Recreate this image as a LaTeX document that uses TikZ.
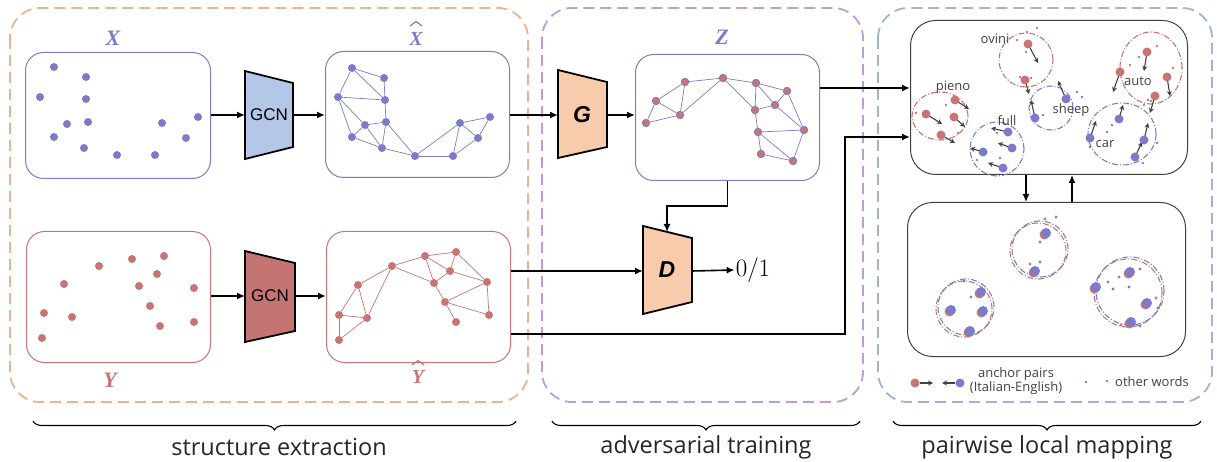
\documentclass[tikz,border=0pt]{standalone}
\usepackage{fontspec}
\usetikzlibrary{arrows.meta,decorations.pathreplacing,calc}
\newfontfamily\osans{Open Sans}
\newfontfamily\lsans{Liberation Sans}
\newfontfamily\lserif{Liberation Serif}
\definecolor{cblue}{HTML}{7B7BCB}
\definecolor{cred}{HTML}{C97474}
\definecolor{gcnblue}{HTML}{B4C7E7}
\definecolor{gcnred}{HTML}{C47572}
\definecolor{peach}{HTML}{F8CBAD}
\definecolor{dorange}{HTML}{EBB38F}
\definecolor{dpurple}{HTML}{BF9BD8}
\definecolor{dblue}{HTML}{A0B3D5}
\definecolor{dgray}{HTML}{404040}
\begin{document}
\begin{tikzpicture}[x=1pt,y=-1pt,
  outerbox/.style={line width=1.8pt, dash pattern=on 11pt off 6pt, rounded corners=30pt},
  panel/.style={draw, rounded corners=18pt, line width=1pt, inner sep=0pt, anchor=north west},
  bdot/.style={circle, fill=cblue, inner sep=0pt, minimum size=8pt},
  rdot/.style={circle, fill=cred, inner sep=0pt, minimum size=8pt},
  zdot/.style={circle, fill=cred, draw=cblue, line width=0.8pt, inner sep=0pt, minimum size=7.5pt},
  bedge/.style={draw=cblue, line width=0.7pt},
  redge/.style={draw=cred, line width=0.7pt},
  flow/.style={line width=1.6pt, -{Latex[length=8pt,width=7pt]}},
  trap/.style={draw=black, line width=1.8pt},
  varlabel/.style={font=\lserif\bfseries\itshape\fontsize{22}{22}\selectfont, inner sep=1pt},
  hatlabel/.style={font=\lserif\bfseries\itshape\fontsize{20}{20}\selectfont, inner sep=1pt},
  hat/.style={line width=1.2pt, line join=round},
  sublabel/.style={font=\osans\fontsize{23.5}{23.5}\selectfont, text=black!85},
  rcirc/.style={draw=cred, line width=1.1pt, dash pattern=on 6pt off 2pt on 1pt off 2pt},
  bcirc/.style={draw=cblue, line width=1.1pt, dash pattern=on 6pt off 2pt on 1pt off 2pt},
  carr/.style={draw=dgray, line width=1.1pt, -{Stealth[length=5pt,width=5pt]}},
  wlabel/.style={font=\osans\fontsize{13}{13}\selectfont, text=dgray, inner sep=1pt},
  brace/.style={decorate, decoration={brace, mirror, amplitude=9pt}, line width=1.1pt}
]
\path[use as bounding box] (0,0) rectangle (1217,462);

% outer dashed containers
\draw[outerbox, draw=dorange] (10,8) rectangle (528,402);
\draw[outerbox, draw=dpurple] (542,8) rectangle (863,402);
\draw[outerbox, draw=dblue] (878,8) rectangle (1212,402);

% braces and captions
\draw[brace] (33,421) -- (516,421);
\node[sublabel] (cap1) at (279,447) {structure extraction};
\draw[brace] (552,421) -- (860,421);
\node[sublabel] (cap2) at (706,447) {adversarial training};
\draw[brace] (893,421) -- (1201,421);
\node[sublabel] (cap3) at (1047,447) {pairwise local mapping};

% panels
\node[panel, draw=cblue, minimum width=185pt, minimum height=126pt] (X) at (25,52) {};
\node[panel, draw=cblue, minimum width=184pt, minimum height=126pt] (Xh) at (325,51) {};
\node[panel, draw=cblue, minimum width=184pt, minimum height=126pt] (Z) at (635,54) {};
\node[panel, draw=cred, minimum width=184pt, minimum height=131pt] (Y) at (26,231) {};
\node[panel, draw=cred, minimum width=184pt, minimum height=131pt] (Yh) at (326,231) {};
\node[panel, draw=black!75, rounded corners=25pt, minimum width=277pt, minimum height=154pt] (T) at (910,20) {};
\node[panel, draw=black!75, rounded corners=25pt, minimum width=278pt, minimum height=154pt] (B) at (907,202) {};

% variable labels
\node[varlabel, text=cblue] (lx) at (113,38) {X};
\node[hatlabel, text=cblue] (lxh) at (416,39) {X};
\draw[hat, draw=cblue] (410,26) -- (416,21.5) -- (422,26);
\node[varlabel, text=cblue] (lz) at (722,37) {Z};
\node[varlabel, text=cred] (ly) at (110,380) {Y};
\node[hatlabel, text=cred] (lyh) at (418,377) {Y};
\draw[hat, draw=cred] (412,365) -- (418,360.5) -- (424,365);

% trapezoids
\draw[trap, fill=gcnblue] (245,71) -- (293,83) -- (293,147) -- (245,159) -- cycle;
\node[font=\lsans\fontsize{17}{17}\selectfont] (gcn1) at (269,115) {GCN};
\coordinate (g1in) at (245,115); \coordinate (g1out) at (293,115);
\draw[trap, fill=gcnred] (245,251) -- (295,263) -- (295,331) -- (245,342) -- cycle;
\node[font=\lsans\fontsize{17}{17}\selectfont] (gcn2) at (270,296) {GCN};
\coordinate (g2in) at (245,296); \coordinate (g2out) at (295,296);
\draw[trap, fill=peach] (558,70) -- (607,82) -- (607,147) -- (558,158) -- cycle;
\node[font=\lsans\bfseries\itshape\fontsize{23}{23}\selectfont] (G) at (582,115) {G};
\coordinate (gin) at (558,115); \coordinate (gout) at (607,115);
\draw[trap, fill=peach] (643,226) -- (692,238) -- (692,302) -- (643,314) -- cycle;
\node[font=\lsans\bfseries\itshape\fontsize{23}{23}\selectfont] (D) at (667,270) {D};
\coordinate (din) at (643,271); \coordinate (dout) at (692,271); \coordinate (dtop) at (667,232);
\node[font=\fontsize{25}{25}\selectfont, inner sep=1pt] (out) at (753,270) {0/1};

% flow connectors
\coordinate (tin1) at (910,88);
\coordinate (tin2) at (910,137);
\coordinate (bend) at (845,334);
\coordinate (dx) at (1026,0);
\coordinate (ux) at (1072,0);
\draw[flow] (X.east |- g1in) -- (g1in);
\draw[flow] (g1out) -- (g1out -| Xh.west);
\draw[flow] (Xh.east |- gin) -- (gin);
\draw[flow] (gout) -- (gout -| Z.west);
\draw[flow] (Z.east |- tin1) -- (tin1);
\draw[flow] (Z.south) -- ++(0,25) -| (dtop);
\draw[flow] (Y.east |- g2in) -- (g2in);
\draw[flow] (g2out) -- (g2out -| Yh.west);
\draw[flow] (Yh.east |- din) -- (din);
\draw[flow] (dout) -- (out.west);
\draw[flow] (Yh.east |- bend) -- (bend) |- (tin2);
\draw[flow, line width=1.3pt] (T.south -| dx) -- (B.north -| dx);
\draw[flow, line width=1.3pt] (B.north -| ux) -- (T.south -| ux);

% X points
\foreach \p in {(54,67),(86,77),(40,97),(86,99),(67,124),(88,122),(54,137),(84,148),(117,155),(155,155),(162,123),(186,138),(198,117)}
  \fill[cblue] \p circle (4pt);

% Xhat graph
\node[bdot] (a) at (352,68) {};
\node[bdot] (b) at (384,78) {};
\node[bdot] (c) at (338,97) {};
\node[bdot] (d) at (385,100) {};
\node[bdot] (e) at (365,125) {};
\node[bdot] (f) at (386,122) {};
\node[bdot] (g) at (352,137) {};
\node[bdot] (h) at (382,148) {};
\node[bdot] (i) at (415,156) {};
\node[bdot] (j) at (453,156) {};
\node[bdot] (k) at (460,123) {};
\node[bdot] (l) at (490,117) {};
\node[bdot] (m) at (478,138) {};
\foreach \u/\v in {a/b,a/c,a/d,b/d,c/d,c/e,c/g,e/g,e/f,d/f,e/h,f/h,g/h,f/i,h/i,i/j,i/k,j/k,k/l,k/m,l/m,j/m}
  \draw[bedge] (\u) -- (\v);

% Z graph
\node[zdot] (z1) at (646,123) {};
\node[zdot] (z2) at (656,101) {};
\node[zdot] (z3) at (680,115) {};
\node[zdot] (z4) at (685,82) {};
\node[zdot] (z5) at (723,78) {};
\node[zdot] (z6) at (756,83) {};
\node[zdot] (z7) at (787,91) {};
\node[zdot] (z8) at (775,105) {};
\node[zdot] (z9) at (755,110) {};
\node[zdot] (z10) at (758,132) {};
\node[zdot] (z11) at (804,130) {};
\node[zdot] (z12) at (761,154) {};
\node[zdot] (z13) at (793,161) {};
\foreach \u/\v in {z1/z2,z1/z3,z2/z3,z2/z4,z4/z3,z3/z5,z4/z5,z5/z6,z5/z9,z6/z9,z6/z7,z6/z8,z7/z8,z9/z8,z8/z11,z7/z11,z9/z10,z10/z11,z10/z12,z10/z13,z11/z13,z12/z13}
  \draw[bedge] (\u) -- (\v);

% Y points
\foreach \p in {(99,266),(132,259),(164,256),(157,274),(64,284),(139,286),(194,288),(44,313),(72,317),(150,306),(160,326),(194,322),(42,338)}
  \fill[cred] \p circle (4pt);

% Yhat graph
\node[rdot] (q1) at (425,256) {};
\node[rdot] (q2) at (456,252) {};
\node[rdot] (q3) at (392,266) {};
\node[rdot] (q4) at (450,271) {};
\node[rdot] (q5) at (487,282) {};
\node[rdot] (q6) at (434,283) {};
\node[rdot] (q7) at (358,285) {};
\node[rdot] (q8) at (445,302) {};
\node[rdot] (q9) at (339,315) {};
\node[rdot] (q10) at (367,318) {};
\node[rdot] (q11) at (489,315) {};
\node[rdot] (q12) at (456,322) {};
\node[rdot] (q13) at (339,340) {};
\foreach \u/\v in {q3/q1,q1/q2,q1/q4,q2/q4,q1/q6,q3/q6,q4/q6,q2/q5,q4/q5,q6/q8,q8/q5,q8/q11,q5/q11,q8/q12,q3/q7,q3/q10,q7/q10,q7/q9,q9/q10,q9/q13,q10/q13}
  \draw[redge] (\u) -- (\v);

% ---- top right: local clusters ----
\draw[rcirc] (1026,60) circle (27pt);
\draw[bcirc] (1051,108) circle (22pt);
\draw[rcirc] (940,116) ellipse [x radius=28pt, y radius=24pt];
\draw[bcirc] (997,149) circle (27pt);
\draw[rcirc] (1151,68) ellipse [x radius=31pt, y radius=36pt];
\draw[bcirc] (1122,134) ellipse [x radius=34pt, y radius=31pt];
% arrows
\draw[carr] (1028,44) -- (1038,63);
\draw[carr] (1025,80) -- (1029,94);
\draw[carr] (1035,118) -- (1031,100);
\draw[carr] (1066,99) -- (1058,81);
\draw[carr] (955,100) -- (969,109);
\draw[carr] (926,114) -- (942,124);
\draw[carr] (954,117) -- (965,127);
\draw[carr] (941,135) -- (955,143);
\draw[carr] (1008,132) -- (991,128);
\draw[carr] (1012,148) -- (998,143);
\draw[carr] (983,152) -- (970,148);
\draw[carr] (1003,168) -- (988,163);
\draw[carr] (1147,52) -- (1144,71);
\draw[carr] (1120,72) -- (1113,92);
\draw[carr] (1167,77) -- (1170,96);
\draw[carr] (1155,96) -- (1150,113);
\draw[carr] (1090,138) -- (1096,121);
\draw[carr] (1119,119) -- (1123,105);
\draw[carr] (1144,140) -- (1148,123);
\draw[carr] (1135,157) -- (1142,142);
% big dots
\foreach \p in {(1028,44),(1025,80),(955,100),(926,114),(954,117),(941,135),(1147,52),(1120,72),(1167,77),(1155,96)}
  \fill[cred] \p circle (4.5pt);
\foreach \p in {(1035,118),(1066,99),(1008,132),(1012,148),(983,152),(1003,168),(1090,138),(1119,119),(1144,140),(1135,157)}
  \fill[cblue] \p circle (4.5pt);
% small dots
\foreach \p in {(1027,32),(1037,28),(1017,40),(1026,52),(1020,77),(1031,78),(1157,46),(1139,57),(1130,65),(1173,68),(1151,101),(1144,105),(946,105),(916,113),(958,133)}
  \fill[cred] \p circle (1.4pt);
\foreach \p in {(997,133),(1000,158),(977,160),(1043,115),(1077,92),(1082,97),(1112,125),(1107,132),(1157,143),(1143,163),(1090,147),(1148,100)}
  \fill[cblue] \p circle (1.4pt);
% word labels
\node[wlabel] (wovini) at (995,39) {ovini};
\node[wlabel] (wsheep) at (1071,110) {sheep};
\node[wlabel] (wpieno) at (953,87) {pieno};
\node[wlabel] (wfull) at (1007,121) {full};
\node[wlabel] (wauto) at (1138,81) {auto};
\node[wlabel] (wcar) at (1105,144) {car};

% ---- bottom right: aligned clusters ----
\draw[rcirc] (1038,251) circle (28pt);
\draw[bcirc] (1040,249) circle (28pt);
\draw[rcirc] (964,309) circle (28pt);
\draw[bcirc] (966,307) circle (28pt);
\draw[rcirc] (1128,293) circle (34pt);
\draw[bcirc] (1130,291) circle (34pt);
\foreach \px/\py in {1046/233,1035/271,981/292,983/311,951/310,970/331,1130/272,1096/287,1147/303,1131/322}
  {\fill[cred] (\px-1.5,\py+1.5) circle (5pt);
   \fill[cblue] (\px,\py) circle (5pt);}
\foreach \p in {(1045,219),(1030,264),(971,297),(1108,282),(1119,277),(1156,298),(1121,325)}
  \fill[cred] \p circle (1.6pt);
\foreach \p in {(1056,217),(1040,242),(1040,262),(964,281),(1140,269),(1113,289),(1129,287),(1158,308),(1140,326)}
  \fill[cblue] \p circle (1.6pt);

% legend
\fill[cred] (915,383) circle (4.5pt);
\draw[carr] (920,383) -- (933,383);
\draw[carr] (955,383) -- (942,383);
\fill[cblue] (960,383) circle (4.5pt);
\node[text=dgray, inner sep=1pt, align=center, font=\osans\fontsize{13}{14}\selectfont] (lg1) at (1016,381) {anchor pairs\\(Italian-English)};
\fill[cblue] (1086,382) circle (1.4pt);
\fill[cred] (1107,381) circle (1.4pt);
\node[wlabel] (lg2) at (1152,382) {other words};
\end{tikzpicture}
\end{document}
